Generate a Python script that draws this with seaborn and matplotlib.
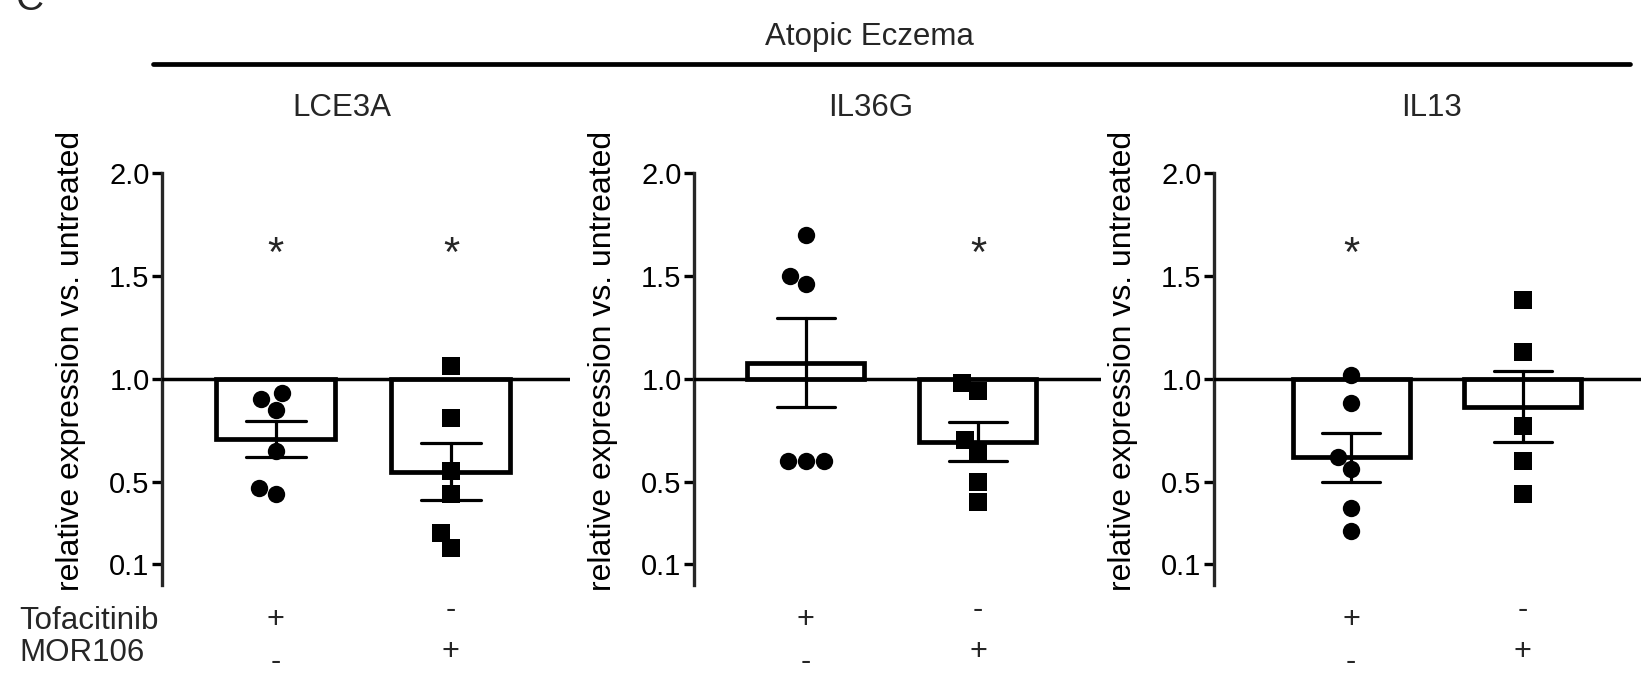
import matplotlib
matplotlib.use('Agg')
import pandas as pd
import seaborn as sns
from matplotlib import pyplot as plt
from matplotlib import transforms
from matplotlib.lines import Line2D

# values (relative expression vs. untreated)
genes = ['LCE3A', 'IL36G', 'IL13']
treatments = ['Tofacitinib', 'MOR106']

lce3a_tofa = [0.93, 0.90, 0.85, 0.65, 0.47, 0.44]
lce3a_mor = [1.06, 0.81, 0.55, 0.44, 0.25, 0.18]
il36g_tofa = [1.70, 1.50, 1.46, 0.60, 0.60, 0.60]
il36g_mor = [0.94, 0.98, 0.70, 0.64, 0.50, 0.40]
il13_tofa = [1.02, 0.88, 0.62, 0.56, 0.37, 0.26]
il13_mor = [1.38, 1.13, 0.77, 0.60, 0.44]

significant = {'LCE3A': [True, True], 'IL36G': [False, True], 'IL13': [True, False]}
tofa_signs = ['+', '-']
mor_signs = ['-', '+']
yticks = [0.1, 0.5, 1.0, 1.5, 2.0]

rows = []
for gene, tofa, mor in zip(genes, [lce3a_tofa, il36g_tofa, il13_tofa], [lce3a_mor, il36g_mor, il13_mor]):
    rows += [(gene, 'Tofacitinib', v) for v in tofa]
    rows += [(gene, 'MOR106', v) for v in mor]
df = pd.DataFrame(rows, columns=['gene', 'treatment', 'value'])

sns.set_theme(style='ticks')
plt.rcParams['font.family'] = ['Liberation Sans', 'DejaVu Sans']

W, H = 1641, 691
fig = plt.figure(figsize=(W / 100, H / 100), dpi=100)

# panel placement in pixels (left spine, right end of the 1.0 line) and x limits
ax_left = [162, 694, 1214]
ax_right = [570, 1101, 1660]
x_limits = [(-0.65, 1.68), (-0.65, 1.715), (-0.80, 1.80)]
title_x = [342, 871, 1432]
markers = ['o', 's']

for k, gene in enumerate(genes):
    l, r = ax_left[k], ax_right[k]
    ax = fig.add_axes([l / W, 0.154, (r - l) / W, 0.596])
    sub = df[df['gene'] == gene]

    sns.barplot(data=sub, x='treatment', y='value', order=treatments,
                estimator='mean', errorbar='se', capsize=0.34, width=0.68,
                color='white', edgecolor='black', linewidth=3.4,
                err_kws={'color': 'black', 'linewidth': 2.3}, ax=ax)
    # bars start at 1.0 (untreated) instead of 0
    for p in ax.patches:
        h = p.get_height()
        p.set_y(1.0)
        p.set_height(h - 1.0)

    for t, m in zip(treatments, markers):
        sns.swarmplot(data=sub[sub['treatment'] == t], x='treatment', y='value',
                      order=treatments, marker=m, size=12.5, color='black', ax=ax)

    ax.axhline(1.0, color='black', lw=2.5, zorder=3)
    ax.set_ylim(0, 2.0)
    ax.set_xlim(*x_limits[k])
    ax.set_yticks(yticks)
    ax.set_yticklabels(['%.1f' % v for v in yticks])
    ax.set_xticks([])
    ax.set_xlabel('')
    sns.despine(ax=ax, bottom=True)
    ax.spines['left'].set_linewidth(2.4)
    ax.tick_params(axis='y', length=7, width=2.4, labelsize=21, pad=2, colors='black')
    ax.set_ylabel('relative expression vs. untreated', fontsize=23, color='black')
    ax.yaxis.set_label_coords(-76 / (r - l), 0.543)

    for i, star in enumerate(significant[gene]):
        if star:
            ax.text(i, 1.60, '*', ha='center', va='center', fontsize=30)

    trans = transforms.blended_transform_factory(ax.transData, fig.transFigure)
    for i in range(2):
        shift = 0 if i == 0 else 10
        ax.text(i, 1 - (620 - shift) / H, tofa_signs[i], transform=trans,
                ha='center', va='center', fontsize=22)
        ax.text(i, 1 - (662 - shift) / H, mor_signs[i], transform=trans,
                ha='center', va='center', fontsize=22)

    fig.text(title_x[k] / W, 1 - 108 / H, gene, ha='center', va='center', fontsize=22.5)

fig.text(19 / W, 1 - 621 / H, 'Tofacitinib', ha='left', va='center', fontsize=22.5)
fig.text(19 / W, 1 - 653 / H, 'MOR106', ha='left', va='center', fontsize=22.5)

fig.text(869 / W, 1 - 37 / H, 'Atopic Eczema', ha='center', va='center', fontsize=22.5)
fig.add_artist(Line2D([153 / W, 1630 / W], [1 - 64 / H, 1 - 64 / H], color='black',
                      lw=3.4, transform=fig.transFigure))
fig.text(16 / W, 1 - 10 / H, 'C', ha='left', va='baseline', fontsize=28)

fig.savefig('out.png', dpi=100)
